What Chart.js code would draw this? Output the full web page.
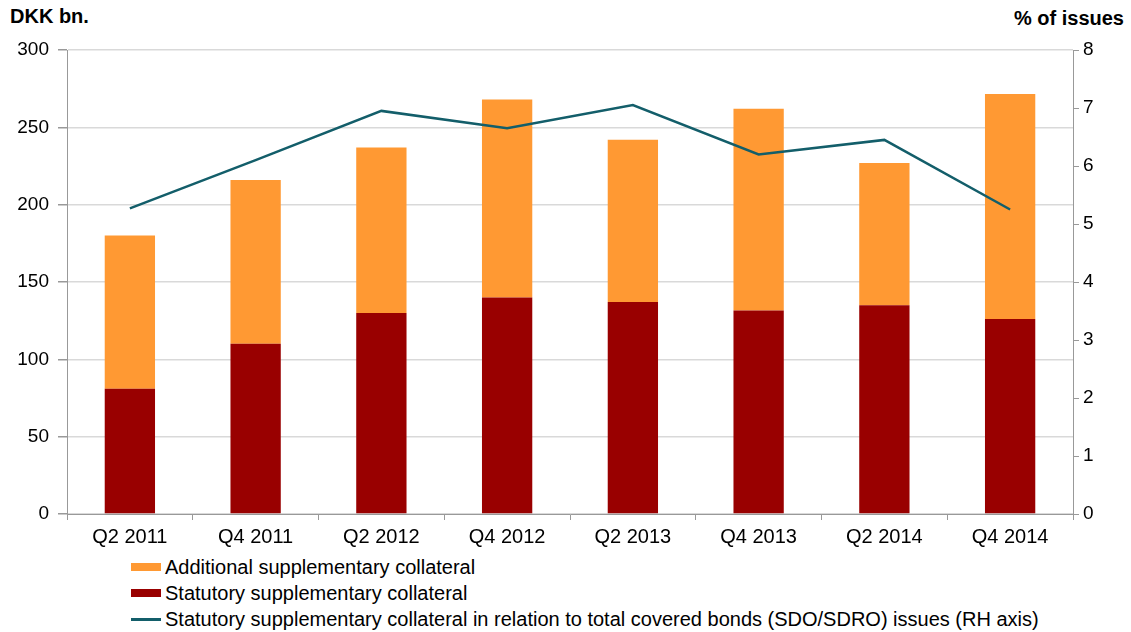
<!DOCTYPE html>
<html>
<head>
<meta charset="utf-8">
<script src="https://cdn.jsdelivr.net/npm/chart.js@4.4.0/dist/chart.umd.min.js"></script>
<style>
  body { margin: 0; background: #fff; font-family: "Liberation Sans", Arial, sans-serif; }
  #wrap { position: relative; width: 1131px; height: 632px; }
  #box { position: absolute; left: 0; top: 0; width: 1131px; height: 554px; }
  .unit { position: absolute; font-weight: bold; font-size: 20px; color: #000; }
  #legend { position: absolute; left: 131px; top: 554px; font-size: 20px; color: #000; }
  #legend div { height: 26px; line-height: 26px; display: flex; align-items: center; }
  #legend span.sw { display: inline-block; width: 30px; margin-right: 4px; }
</style>
</head>
<body>
<div id="wrap">
  <div class="unit" style="left:10px; top:5px;">DKK bn.</div>
  <div class="unit" style="right:7px; top:7px;">% of issues</div>
  <div id="box"><canvas id="chart"></canvas></div>
  <div id="legend"></div>
</div>
<script>
const quarters = ["Q2 2011", "Q4 2011", "Q2 2012", "Q4 2012", "Q2 2013", "Q4 2013", "Q2 2014", "Q4 2014"];
const statutory = [81, 110, 130, 140, 137, 131.5, 135, 126];
const additional = [99, 106, 107, 128, 105, 130.5, 92, 145.5];
const shareOfIssues = [5.27, 6.1, 6.95, 6.65, 7.05, 6.2, 6.45, 5.25];

const orange = "#FF9933";
const darkRed = "#990000";
const teal = "#135E6A";
const tickFont = { family: "'Liberation Sans', Arial, sans-serif", size: 19 };
const catFont = { family: "'Liberation Sans', Arial, sans-serif", size: 20 };

const ctx = document.getElementById("chart").getContext("2d");
const chart = new Chart(ctx, {
  type: "bar",
  data: {
    labels: quarters,
    datasets: [
      {
        label: "Statutory supplementary collateral",
        data: statutory,
        backgroundColor: darkRed,
        stack: "s",
        yAxisID: "y",
        order: 1,
        barPercentage: 0.4,
        categoryPercentage: 1,
      },
      {
        label: "Additional supplementary collateral",
        data: additional,
        backgroundColor: orange,
        stack: "s",
        yAxisID: "y",
        order: 1,
        barPercentage: 0.4,
        categoryPercentage: 1,
      },
      {
        type: "line",
        label: "Statutory supplementary collateral in relation to total covered bonds (SDO/SDRO) issues (RH axis)",
        data: shareOfIssues,
        borderColor: teal,
        borderWidth: 2.5,
        pointRadius: 0,
        tension: 0,
        yAxisID: "y1",
        order: 0,
      },
    ],
  },
  options: {
    responsive: true,
    maintainAspectRatio: false,
    animation: false,
    layout: { padding: { left: 17, right: 37, top: 50, bottom: 0 } },
    plugins: {
      legend: { display: false },
      tooltip: { enabled: false },
    },
    scales: {
      x: {
        stacked: true,
        grid: { display: true, drawOnChartArea: false, color: "#999", tickLength: 6 },
        border: { color: "#999" },
        ticks: { color: "#000", font: catFont, padding: 5 },
      },
      y: {
        stacked: true,
        position: "left",
        min: 0,
        max: 300,
        afterFit: (scale) => { scale.width = 50; },
        ticks: { stepSize: 50, color: "#000", font: tickFont, padding: 9 },
        grid: { color: "#d9d9d9", tickColor: "#999", tickLength: 9, lineWidth: 1.5 },
        border: { color: "#999" },
      },
      y1: {
        position: "right",
        min: 0,
        max: 8,
        afterFit: (scale) => { scale.width = 21; },
        ticks: { stepSize: 1, color: "#000", font: tickFont, padding: 4 },
        grid: { drawOnChartArea: false, color: "#999", tickLength: 6 },
        border: { color: "#999" },
      },
    },
  },
});

// legend in the reference order
const legendOrder = [1, 0, 2];
const legendEl = document.getElementById("legend");
legendOrder.forEach((i) => {
  const ds = chart.data.datasets[i];
  const row = document.createElement("div");
  const sw = document.createElement("span");
  sw.className = "sw";
  if (ds.type === "line") {
    sw.style.height = "3px";
    sw.style.background = ds.borderColor;
  } else {
    sw.style.height = "8px";
    sw.style.background = ds.backgroundColor;
  }
  row.appendChild(sw);
  row.appendChild(document.createTextNode(ds.label));
  legendEl.appendChild(row);
});
</script>
</body>
</html>
